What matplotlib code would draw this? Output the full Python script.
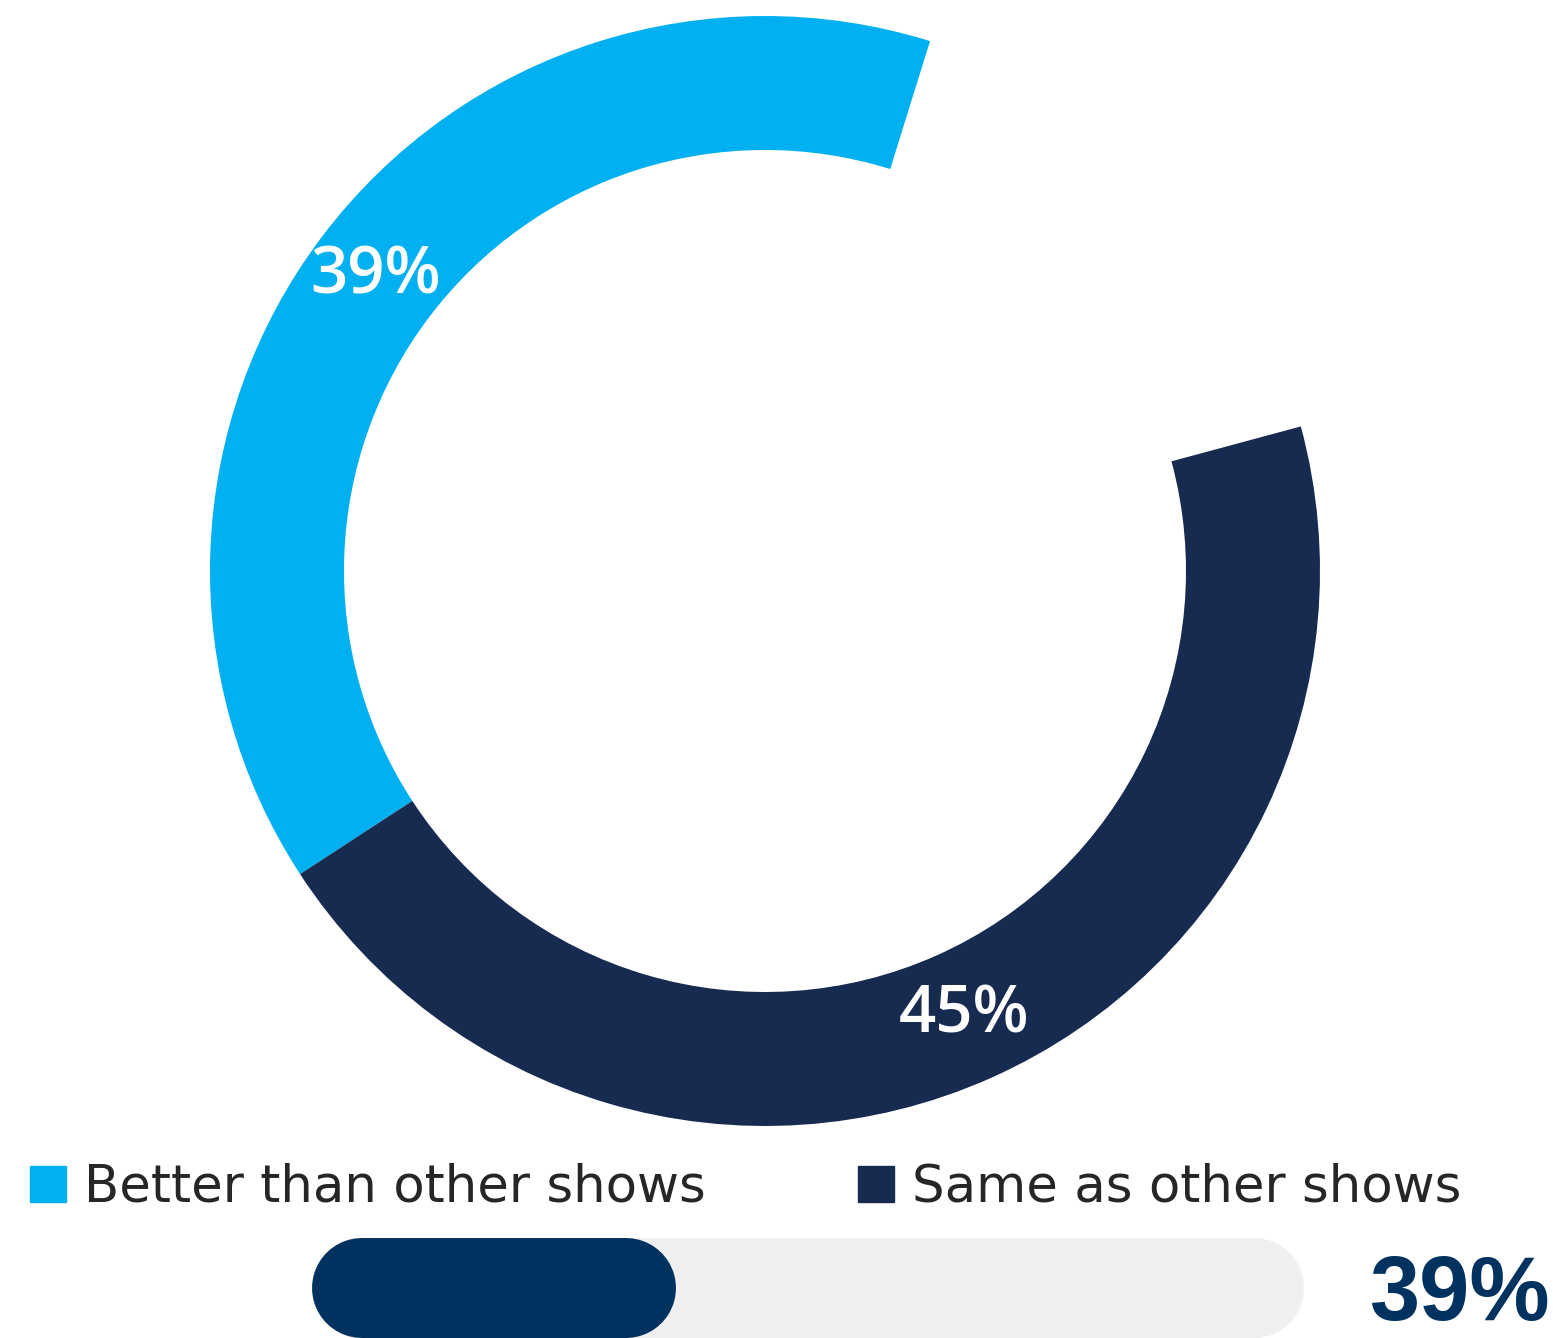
import matplotlib
matplotlib.use("Agg")
import matplotlib.pyplot as plt
from matplotlib.patches import Rectangle
import numpy as np

# 数据
categories = ["Better than other shows", "Same as other shows", "Other"]
shares = [39, 45, 16]
show_label = [True, True, False]
colors = ["#00B0F0", "#172A4F", "none"]

bar_value = 39
bar_max = 106.3

W, H = 1553, 1338
fig = plt.figure(figsize=(W / 100, H / 100), dpi=100)


def px_axes(x0, y0, x1, y1):
    # 像素坐标 (左上为原点) -> figure 坐标
    return fig.add_axes([x0 / W, 1 - y1 / H, (x1 - x0) / W, (y1 - y0) / H])


# 环形图
ax = px_axes(210, 16, 1320, 1126)
ring = 134 / 555
wedges, _ = ax.pie(shares, colors=colors, startangle=72.7, counterclock=True,
                   radius=1, wedgeprops=dict(width=ring, linewidth=0))
ax.set_xlim(-1, 1)
ax.set_ylim(-1, 1)
ax.set_aspect("equal")
ax.axis("off")

r_mid = 1 - ring / 2
for w, s, show in zip(wedges, shares, show_label):
    if not show:
        continue
    ang = np.deg2rad((w.theta1 + w.theta2) / 2)
    ax.text(r_mid * np.cos(ang), r_mid * np.sin(ang), f"{s}%",
            ha="center", va="center", color="white", fontsize=47,
            fontweight="semibold", family=["Open Sans", "DejaVu Sans"])

# 图例
legend_x = [30, 858]
for lx, cat, c in zip(legend_x, categories[:2], colors[:2]):
    fig.patches.append(Rectangle((lx / W, 1 - 1202 / H), 36 / W, 36 / H,
                                 transform=fig.transFigure, color=c))
    fig.text((lx + 54) / W, 1 - 1201 / H, cat, ha="left", va="baseline",
             fontsize=37, color="#262626", fontweight="normal",
             family=["DejaVu Sans"])

# 进度条 (等比例坐标, 圆头粗线)
bx = px_axes(312, 1238, 1304, 1338)
bar_h = bar_max * 100 / 992
bx.set_xlim(0, bar_max)
bx.set_ylim(0, bar_h)
bx.axis("off")
r = bar_h / 2
lw_pt = 100 * 72 / 100
for val, c in [(bar_max, "#F0F0F0"), (bar_value, "#00325F")]:
    bx.plot([r, val - r], [r, r], color=c, lw=lw_pt,
            solid_capstyle="round", clip_on=False)

fig.text(1551 / W, 1 - 1320 / H, f"{bar_value}%", ha="right", va="baseline",
         fontsize=65, fontweight="bold", color="#00325F",
         family=["Liberation Sans", "DejaVu Sans"])

fig.savefig("out.png", dpi=100)
